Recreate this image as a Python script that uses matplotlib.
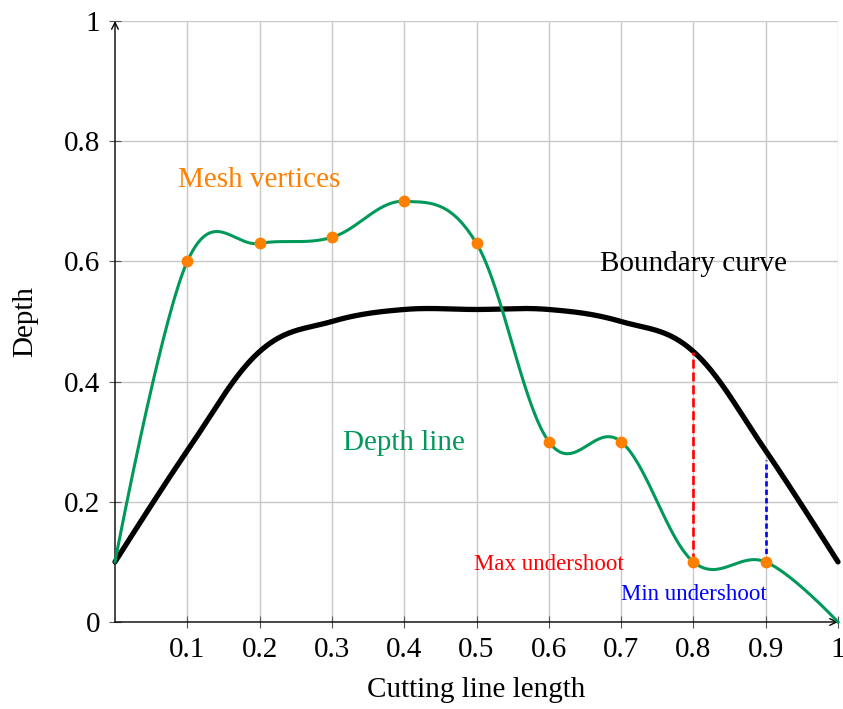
import numpy as np
import matplotlib.pyplot as plt

plt.rcParams['font.family'] = ['Liberation Serif', 'DejaVu Serif']
plt.rcParams['font.size'] = 21

# depth line through the mesh vertices
depth_x = [0.0, 0.1, 0.2, 0.3, 0.4, 0.5, 0.6, 0.7, 0.8, 0.9, 1.0]
depth_y = [0.1, 0.6, 0.63, 0.64, 0.7, 0.63, 0.3, 0.3, 0.1, 0.1, 0.0]
mesh_x = depth_x[1:-1]
mesh_y = depth_y[1:-1]

# boundary curve
bound_x = [0.0, 0.1, 0.2, 0.3, 0.4, 0.5, 0.6, 0.7, 0.8, 0.9, 1.0]
bound_y = [0.1, 0.285, 0.45, 0.5, 0.52, 0.52, 0.52, 0.5, 0.45, 0.285, 0.1]

# undershoot markers: (x, from, to)
max_under = (0.8, 0.1, 0.45)
min_under = (0.9, 0.1, 0.27)

GREEN = '#00995a'
ORANGE = '#ff8000'


def smooth(xs, ys, tension=0.18, n=60):
    # cubic bezier pieces through the points, tikz "smooth" style
    p = np.column_stack([xs, ys]).astype(float)
    m = len(p)
    tang = np.zeros_like(p)
    for i in range(1, m - 1):
        tang[i] = p[i + 1] - p[i - 1]
    out = []
    t = np.linspace(0, 1, n)[:, None]
    for i in range(m - 1):
        a = p[i]
        b = p[i] + tension * tang[i]
        c = p[i + 1] - tension * tang[i + 1]
        d = p[i + 1]
        seg = (1 - t) ** 3 * a + 3 * (1 - t) ** 2 * t * b + 3 * (1 - t) * t ** 2 * c + t ** 3 * d
        out.append(seg if i == 0 else seg[1:])
    out = np.vstack(out)
    return out[:, 0], out[:, 1]


fig = plt.figure(figsize=(8.43, 7.09), dpi=100)
ax = fig.add_axes([115 / 843, 1 - 622 / 709, 723 / 843, 601 / 709])
ax.set_xlim(0, 1)
ax.set_ylim(0, 1)

ax.set_xticks([0.1, 0.2, 0.3, 0.4, 0.5, 0.6, 0.7, 0.8, 0.9, 1.0])
ax.set_xticklabels(['0.1', '0.2', '0.3', '0.4', '0.5', '0.6', '0.7', '0.8', '0.9', '1'])
ax.set_yticks([0, 0.2, 0.4, 0.6, 0.8, 1.0])
ax.set_yticklabels(['0', '0.2', '0.4', '0.6', '0.8', '1'])
ax.grid(True, color='#c8c8c8', lw=1.0)
ax.set_axisbelow(True)
ax.tick_params(direction='inout', length=9, width=0.8, color='#555555', pad=6)

for s in ax.spines.values():
    s.set_visible(False)
ax.annotate('', xy=(1.0, 0), xytext=(0, 0), xycoords='data',
            arrowprops=dict(arrowstyle='->', lw=1.0, color='black',
                            shrinkA=0, shrinkB=0, mutation_scale=12),
            annotation_clip=False)
ax.annotate('', xy=(0, 1.0), xytext=(0, 0), xycoords='data',
            arrowprops=dict(arrowstyle='->', lw=1.0, color='black',
                            shrinkA=0, shrinkB=0, mutation_scale=12),
            annotation_clip=False)

bx, by = smooth(bound_x, bound_y)
ax.plot(bx, by, color='black', lw=3.8, solid_capstyle='round', clip_on=False, zorder=3)

dx, dy = smooth(depth_x, depth_y)
ax.plot(dx, dy, color=GREEN, lw=2.2, clip_on=False, zorder=4)

ax.plot([max_under[0], max_under[0]], [max_under[1], max_under[2]],
        color='red', lw=1.9, dashes=(3.4, 1.5), zorder=5)
ax.plot([min_under[0], min_under[0]], [min_under[1], min_under[2]],
        color='blue', lw=1.9, dashes=(2.0, 1.2), zorder=5)

ax.plot(mesh_x, mesh_y, 'o', color=ORANGE, ms=7.5, zorder=6, clip_on=False)

ax.text(0.2, 0.735, 'Mesh vertices', color=ORANGE, ha='center', va='center')
ax.text(0.8, 0.596, 'Boundary curve', color='black', ha='center', va='center')
ax.text(0.4, 0.298, 'Depth line', color=GREEN, ha='center', va='center')
ax.text(0.6, 0.096, 'Max undershoot', color='red', ha='center', va='center', fontsize=16.5)
ax.text(0.8, 0.046, 'Min undershoot', color='blue', ha='center', va='center', fontsize=16.5)

ax.set_xlabel('Cutting line length')
ax.set_ylabel('Depth')
ax.xaxis.set_label_coords(0.5, -0.113)
ax.xaxis.label.set_va('center')
ax.yaxis.set_label_coords(-0.1245, 0.5)
ax.yaxis.label.set_va('center')

fig.savefig('out.png', dpi=100)
